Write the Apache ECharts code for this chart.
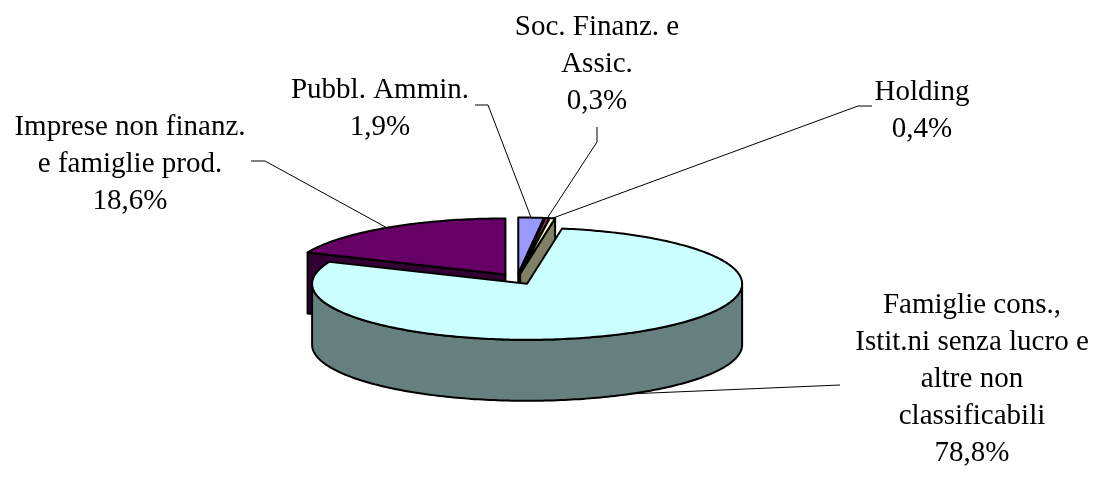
<!DOCTYPE html>
<html>
<head>
<meta charset="utf-8">
<title>Ripartizione per settore</title>
<script src="https://cdn.jsdelivr.net/npm/echarts/dist/echarts.min.js"></script>
<style>
  html, body { margin: 0; padding: 0; background: #fff; }
  #main { width: 1096px; height: 480px; }
</style>
</head>
<body>
<div id="main"></div>
<script>
// dati (quote percentuali, in senso orario da ore 12)
var categories = [
  'Pubbl. Ammin.',
  'Soc. Finanz. e\nAssic.',
  'Holding',
  'Famiglie cons.,\nIstit.ni senza lucro e\naltre non\nclassificabili',
  'Imprese non finanz.\ne famiglie prod.'
]
var shares = [1.9, 0.3, 0.4, 78.8, 18.6]

// stile
var topColors = ['#9999FF', '#993366', '#FFFFCC', '#CCFFFF', '#660066']
var sideColors = ['#4D4D80', '#4D1A33', '#808066', '#668080', '#330033']

// posizione etichette e attacchi delle linee guida
var labelPos = [[380, 109], [597, 64], [922, 111], [972, 379], [130, 164]]
var leaderStart = [
  [[475, 105], [488, 105]],
  [[597, 127], [597, 142]],
  [[872, 106], [858, 106]],
  [[840, 385], [840, 385]],
  [[251, 161], [265, 161]]
]

var geo = { cx: 517, cy: 279, rx: 215, ry: 56, depth: 61, explode: 21 }

var total = shares.reduce(function (a, b) { return a + b }, 0)
var starts = []
var acc = 0
shares.forEach(function (v) { starts.push(acc / total * 360); acc += v })

function rad (d) { return d * Math.PI / 180 }

function origin (i) {
  var mid = rad(starts[i] + shares[i] / total * 180)
  return [geo.cx + geo.explode * Math.sin(mid),
          geo.cy - geo.explode * (geo.ry / geo.rx) * Math.cos(mid)]
}

function edge (o, deg, dy) {
  var a = rad(deg)
  return [o[0] + geo.rx * Math.sin(a), o[1] - geo.ry * Math.cos(a) + (dy || 0)]
}

function arc (o, a0, a1, dy) {
  var pts = []
  var n = Math.max(2, Math.ceil(Math.abs(a1 - a0)))
  for (var k = 0; k <= n; k++) pts.push(edge(o, a0 + (a1 - a0) * k / n, dy))
  return pts
}

function fmt (v) { return v.toFixed(1).replace('.', ',') + '%' }

function renderItem (params, api) {
  var i = params.dataIndex
  var v = api.value(0)
  var a0 = starts[i]
  var a1 = a0 + v / total * 360
  var o = origin(i)
  var d = geo.depth
  var stroke = { stroke: '#000', lineWidth: 2, lineJoin: 'round' }
  var children = []

  // facce radiali visibili
  if (Math.sin(rad(a0)) < -0.01) {
    var p = edge(o, a0)
    children.push({ type: 'polygon', z2: 10,
      shape: { points: [o, p, [p[0], p[1] + d], [o[0], o[1] + d]] },
      style: Object.assign({ fill: sideColors[i] }, stroke) })
  }
  if (Math.sin(rad(a1)) > 0.01) {
    var q = edge(o, a1)
    children.push({ type: 'polygon', z2: 10,
      shape: { points: [o, q, [q[0], q[1] + d], [o[0], o[1] + d]] },
      style: Object.assign({ fill: sideColors[i] }, stroke) })
  }
  // parete esterna anteriore
  var w0 = Math.max(a0, 90), w1 = Math.min(a1, 270)
  if (w1 > w0) {
    var pts = arc(o, w0, w1, 0).concat(arc(o, w1, w0, d))
    children.push({ type: 'polygon', z2: 20, shape: { points: pts },
      style: Object.assign({ fill: sideColors[i] }, stroke) })
  }
  // faccia superiore
  children.push({ type: 'polygon', z2: 30,
    shape: { points: [o].concat(arc(o, a0, a1, 0)) },
    style: Object.assign({ fill: topColors[i] }, stroke) })

  // linea guida verso il bordo della fetta
  var mid = (a0 + a1) / 2
  var tip = (mid > 90 && mid < 270) ? edge(o, mid, d) : edge(o, mid, 0)
  children.push({ type: 'polyline', z2: 5,
    shape: { points: [leaderStart[i][0], leaderStart[i][1], tip] },
    style: { stroke: '#000', lineWidth: 1, fill: null } })

  // etichetta
  children.push({ type: 'text', z2: 40, x: labelPos[i][0], y: labelPos[i][1],
    style: {
      text: categories[i] + '\n' + fmt(v),
      fontSize: 29,
      fontFamily: '"Times New Roman", "Liberation Serif", serif',
      lineHeight: 37,
      align: 'center',
      verticalAlign: 'middle',
      fill: '#000'
    } })

  return { type: 'group', children: children }
}

var chart = echarts.init(document.getElementById('main'))
chart.setOption({
  animation: false,
  backgroundColor: '#fff',
  series: [{
    type: 'custom',
    coordinateSystem: 'none',
    renderItem: renderItem,
    data: shares.map(function (v, i) { return { name: categories[i], value: [v] } })
  }]
})
</script>
</body>
</html>
